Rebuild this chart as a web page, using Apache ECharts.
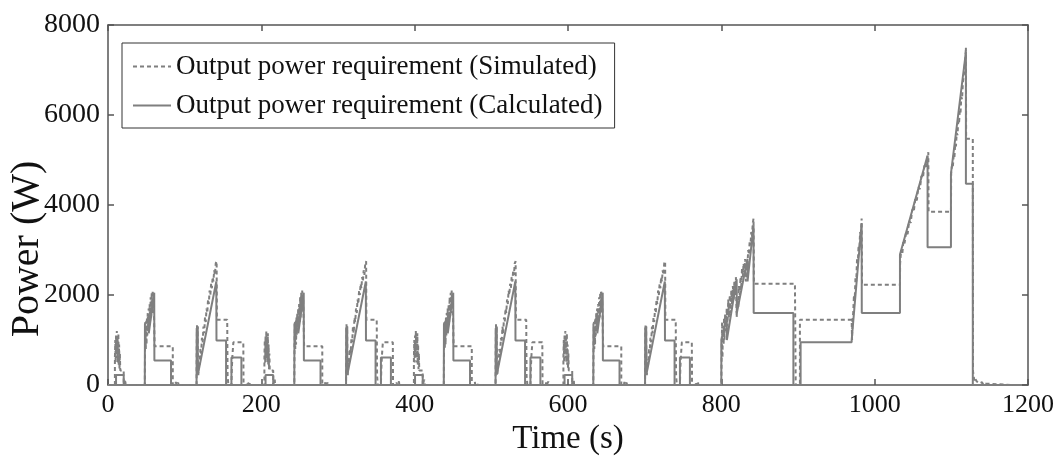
<!DOCTYPE html>
<html>
<head>
<meta charset="utf-8">
<script src="https://cdn.jsdelivr.net/npm/echarts@6/dist/echarts.min.js"></script>
<style>
  html, body { margin: 0; padding: 0; background: #fff; }
  #chart { width: 1058px; height: 456px; }
</style>
</head>
<body>
<div id="chart"></div>
<script>
// one ECE urban cycle, [time within cycle (s), power (W)]
var eceSim = [
  [0, 0], [9, 0], [9, 600], [9.5, 1000], [10, 500], [10.5, 1100], [11, 700], [11.5, 1200], [12, 600],
  [12.5, 1050], [13, 500], [13.5, 1150], [14, 450], [14.5, 900], [15, 350], [15.5, 700], [16, 320],
  [20.5, 320], [20.5, 0], [22, 0], [22.5, 120], [23, 0],
  [48, 0], [48.3, 900], [48.8, 1400], [49.3, 800], [49.8, 1300], [50.3, 900], [50.8, 1500], [51.3, 1100],
  [51.8, 1600], [52.5, 1200], [53, 1700], [53.7, 1300], [54.3, 1800], [55, 1400], [55.6, 1950], [56.3, 1500],
  [57, 2050], [57.6, 1600], [58.3, 2100], [59, 1700], [59.6, 1900], [60.3, 1300], [60.8, 860], [84.5, 860],
  [84.5, 0], [88, 0], [88.5, 70], [89, 0], [91, 0], [91.5, 50], [92, 0],
  [115.5, 0], [115.7, 800], [116.1, 1350], [116.5, 900], [116.9, 1300], [117.3, 500], [117.8, 220],
  [118.5, 500], [119.5, 450], [120.5, 800], [121.5, 700], [122.5, 1050], [123.5, 950], [124.5, 1300],
  [125.5, 1150], [126.5, 1500], [127.5, 1400], [128.5, 1700], [129.5, 1600], [130.5, 1900], [131.5, 1800],
  [132.5, 2100], [133.5, 2000], [134.5, 2250], [135.5, 2150], [136.5, 2400], [137.5, 2300], [138.5, 2550],
  [139.5, 2450], [140.5, 2700], [141.7, 2750], [142, 1450], [155.5, 1450], [156, 200], [157, 0],
  [161, 0], [161.5, 350], [162.3, 650], [163.5, 950], [176.5, 950], [176.8, 0],
  [181, 0], [181.5, 60], [182, 0], [184, 0], [184.5, 80], [185, 0], [195, 0]
];
var eceCalc = [
  [0, 0], [10.5, 0], [10.5, 220], [20.5, 220], [20.5, 0],
  [48, 0], [48.2, 1350], [53, 1500], [53.2, 1150], [60.3, 2050], [60.5, 545], [82.2, 545], [82.2, 0],
  [115.5, 0], [115.7, 1250], [117, 1300], [117.2, 230], [141.3, 2300], [141.5, 990], [154, 990], [154, 0],
  [161, 0], [161, 610], [174, 610], [174, 0], [195, 0]
];
// start time of each of the four urban cycles
var eceStarts = [0, 195, 390, 585];

// extra-urban part, absolute time
var eudcSim = [
  [780, 0], [800, 0], [800.5, 800], [801, 1400], [801.5, 600], [802, 1300], [803, 900], [803.5, 1500],
  [804, 1000], [805, 1600], [806, 1200], [807, 1700], [808, 1300], [809, 1900], [810, 1500], [811, 2000],
  [812, 1600], [813, 2100], [814, 1800], [815, 2200], [816, 1900], [817, 2300], [818, 2000], [819, 2400],
  [820, 1500], [821, 1900], [822, 1700], [823, 2200], [824, 2000], [825, 2400], [826, 2200], [827, 2600],
  [828, 2400], [829, 2700], [830, 2500], [831, 2800], [832, 2300], [833, 2700], [834, 2600], [835, 3000],
  [836, 2900], [837, 3200], [838, 3100], [839, 3400], [840, 3300], [841, 3600], [842, 3700], [842.5, 2250],
  [896, 2250], [897, 0], [902.5, 0], [902.5, 1450], [970, 1450],
  [970.5, 1000], [971, 1400], [972, 1600], [973, 2000], [974, 1900], [975, 2400], [976, 2300], [977, 2800],
  [978, 2700], [979, 3100], [980, 3000], [981, 3400], [982, 3300], [983, 3700], [983.5, 2230], [1033, 2230],
  [1033.2, 2700], [1034.5, 3000], [1036, 2900], [1037.5, 3200], [1039, 3150], [1041, 3400], [1043, 3350],
  [1045, 3650], [1047, 3600], [1049, 3900], [1051, 3850], [1053, 4150], [1055, 4100], [1057, 4400],
  [1059, 4350], [1061, 4650], [1063, 4600], [1065, 4900], [1067, 4850], [1069, 5100], [1070, 5170],
  [1070.3, 3850], [1099.5, 3850],
  [1099.8, 4700], [1101, 4900], [1102, 4850], [1103, 5100], [1104, 5050], [1105, 5350], [1106, 5300],
  [1107, 5600], [1108, 5550], [1109, 5850], [1110, 5800], [1111, 6100], [1112, 6050], [1113, 6400],
  [1114, 6350], [1115, 6700], [1116, 6700], [1117, 7000], [1118, 7200], [1119, 7500], [1119.3, 5470],
  [1128, 5470], [1128.3, 300], [1130, 100], [1131, 150], [1133, 80], [1135, 120], [1137, 40], [1140, 60],
  [1142, 0], [1145, 30], [1147, 0], [1180, 0]
];
var eudcCalc = [
  [780, 0], [800, 0], [800, 1000], [807, 1500], [807.2, 1000], [820, 2350], [820.2, 1600], [834, 2800],
  [834.2, 2300], [842, 3550], [842.2, 1600], [894, 1600], [894, 0], [903.4, 0], [903.4, 950], [970, 950],
  [970, 1000], [983, 3600], [983.2, 1600], [1033, 1600], [1033, 2900], [1069, 5100], [1069, 3060],
  [1099.5, 3060], [1099.5, 4700], [1119, 7400], [1119, 4470], [1128, 4470], [1128, 0], [1180, 0]
];

var seriesNames = ['Output power requirement (Simulated)', 'Output power requirement (Calculated)'];

var simData = [], calcData = [];
eceStarts.forEach(function (s) {
  eceSim.forEach(function (p) { simData.push([p[0] + s, p[1]]); });
  eceCalc.forEach(function (p) { calcData.push([p[0] + s, p[1]]); });
});
simData = simData.concat(eudcSim);
calcData = calcData.concat(eudcCalc);

var font = '"Liberation Serif", "Times New Roman", serif';
var frame = '#555';
var plain = function (v) { return String(v); };

var myChart = echarts.init(document.getElementById('chart'));
var option = {
  animation: false,
  backgroundColor: '#fff',
  grid: { left: 108, right: 30, top: 25, bottom: 71, containLabel: false, outerBoundsMode: 'none' },
  legend: {
    orient: 'vertical',
    left: 122,
    top: 43,
    padding: [10, 12, 9, 10],
    itemGap: 12,
    itemWidth: 38,
    itemHeight: 14,
    borderColor: '#333',
    borderWidth: 1,
    backgroundColor: '#fff',
    itemStyle: { opacity: 0 },
    textStyle: { fontFamily: font, fontSize: 27, color: '#111' },
    data: seriesNames
  },
  xAxis: [{
    type: 'value', min: 0, max: 1200, interval: 200,
    name: 'Time (s)', nameLocation: 'middle', nameGap: 33,
    nameTextStyle: { fontFamily: font, fontSize: 33, color: '#111' },
    axisLine: { onZero: false, lineStyle: { color: frame, width: 1.5 } },
    axisTick: { inside: true, length: 6, lineStyle: { color: frame, width: 1.5 } },
    axisLabel: { fontFamily: font, fontSize: 26, color: '#111', margin: 7, formatter: plain },
    splitLine: { show: false }
  }, {
    type: 'value', min: 0, max: 1200, interval: 200, position: 'top',
    axisLine: { onZero: false, lineStyle: { color: frame, width: 1.5 } },
    axisTick: { inside: true, length: 6, lineStyle: { color: frame, width: 1.5 } },
    axisLabel: { show: false },
    splitLine: { show: false }
  }],
  yAxis: [{
    type: 'value', min: 0, max: 8000, interval: 2000,
    name: 'Power (W)', nameLocation: 'middle', nameGap: 61, nameMoveOverlap: false,
    nameTextStyle: { fontFamily: font, fontSize: 40, color: '#111', padding: [0, 88, 0, 0] },
    axisLine: { show: true, onZero: false, lineStyle: { color: frame, width: 1.5 } },
    axisTick: { show: true, inside: true, length: 6, lineStyle: { color: frame, width: 1.5 } },
    axisLabel: { fontFamily: font, fontSize: 28, color: '#111', margin: 8, formatter: plain },
    splitLine: { show: false }
  }, {
    type: 'value', min: 0, max: 8000, interval: 2000, position: 'right',
    axisLine: { show: true, onZero: false, lineStyle: { color: frame, width: 1.5 } },
    axisTick: { show: true, inside: true, length: 6, lineStyle: { color: frame, width: 1.5 } },
    axisLabel: { show: false },
    splitLine: { show: false }
  }],
  series: [{
    name: seriesNames[0],
    type: 'line',
    data: simData,
    symbol: 'none',
    lineStyle: { color: '#7f7f7f', width: 2, type: [4, 3] },
    itemStyle: { color: '#7f7f7f' },
    z: 3
  }, {
    name: seriesNames[1],
    type: 'line',
    data: calcData,
    symbol: 'none',
    lineStyle: { color: '#7f7f7f', width: 2 },
    itemStyle: { color: '#7f7f7f' },
    z: 2
  }]
};
myChart.setOption(option);
</script>
</body>
</html>
